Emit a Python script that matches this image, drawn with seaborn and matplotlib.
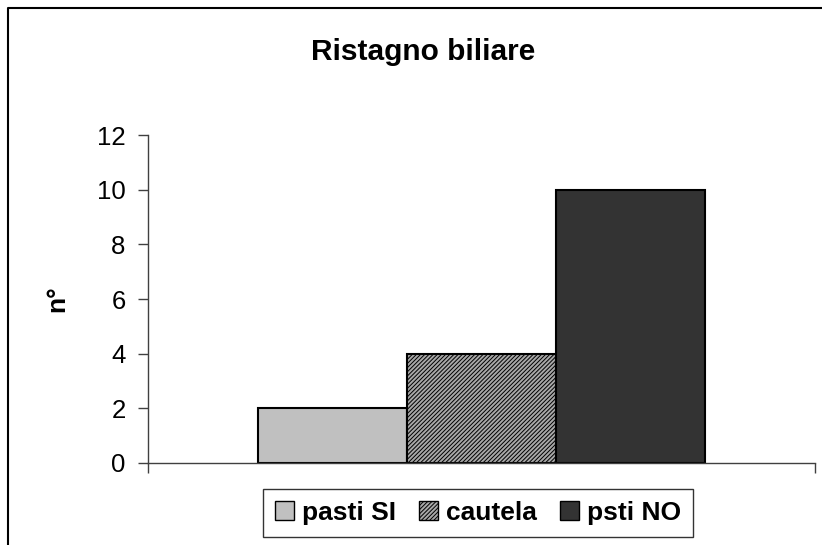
import matplotlib
matplotlib.use("Agg")
import matplotlib.pyplot as plt
import seaborn as sns
import pandas as pd
from matplotlib.lines import Line2D

categories = ["pasti SI", "cautela", "psti NO"]
values = [2, 4, 10]
group = ["Ristagno biliare"] * 3
yticks = [0, 2, 4, 6, 8, 10, 12]

df = pd.DataFrame({"grp": group, "serie": categories, "n": values})

sns.set_theme(style="white")
plt.rcParams["font.family"] = ["Liberation Sans", "DejaVu Sans"]
plt.rcParams["hatch.linewidth"] = 0.7
plt.rcParams["text.color"] = "black"
plt.rcParams["axes.labelcolor"] = "black"
plt.rcParams["xtick.color"] = "black"
plt.rcParams["ytick.color"] = "black"

fig = plt.figure(figsize=(8.22, 5.45), dpi=100)
ax = fig.add_axes([0.180, 0.1505, 0.8115, 0.6015])

palette = {"pasti SI": "#c0c0c0", "cautela": "#a8a8a8", "psti NO": "#333333"}
sns.barplot(data=df, x="grp", y="n", hue="serie", hue_order=categories,
            palette=palette, width=0.669, edgecolor="black", linewidth=1.5,
            saturation=1, legend=False, ax=ax)

for p in ax.containers[1]:
    p.set_hatch("////////")

ax.set_xlim(-0.5, 0.5)
ax.set_ylim(0, 12)
ax.set_yticks(yticks)
ax.set_yticklabels([str(v) for v in yticks], fontsize=18.5)
ax.set_xticks([-0.5, 0.5])
ax.set_xticklabels([])
ax.set_xlabel("")
ax.set_ylabel("n°", fontsize=19, fontweight="bold", labelpad=20)
ax.tick_params(axis="both", direction="out", length=7, width=1, color="#404040",
               labelcolor="black", left=True, bottom=True, pad=9)
for s in ["top", "right"]:
    ax.spines[s].set_visible(False)
for s in ["left", "bottom"]:
    ax.spines[s].set_color("#404040")
    ax.spines[s].set_linewidth(1)

fig.text(0.515, 0.905, "Ristagno biliare", ha="center", va="center",
         fontsize=21.5, fontweight="bold", color="black")

handles = [c[0] for c in ax.containers]
leg = fig.legend(handles, categories, loc="center", bbox_to_anchor=(0.5815, 0.059),
                 ncol=3, frameon=True, fancybox=False,
                 prop={"weight": "bold", "size": 19},
                 handlelength=0.7, handleheight=0.7, handletextpad=0.3,
                 columnspacing=0.9, borderpad=0.45, borderaxespad=0)
leg.get_frame().set_edgecolor("black")
leg.get_frame().set_linewidth(1)
for t in leg.get_texts():
    t.set_color("black")
for h in leg.legend_handles:
    h.set_linewidth(1)

fig.add_artist(Line2D([0.0097, 0.0097, 1.0], [0.0, 0.985, 0.985],
                      transform=fig.transFigure, color="black", lw=1.5))

fig.savefig("out.png", dpi=100)
